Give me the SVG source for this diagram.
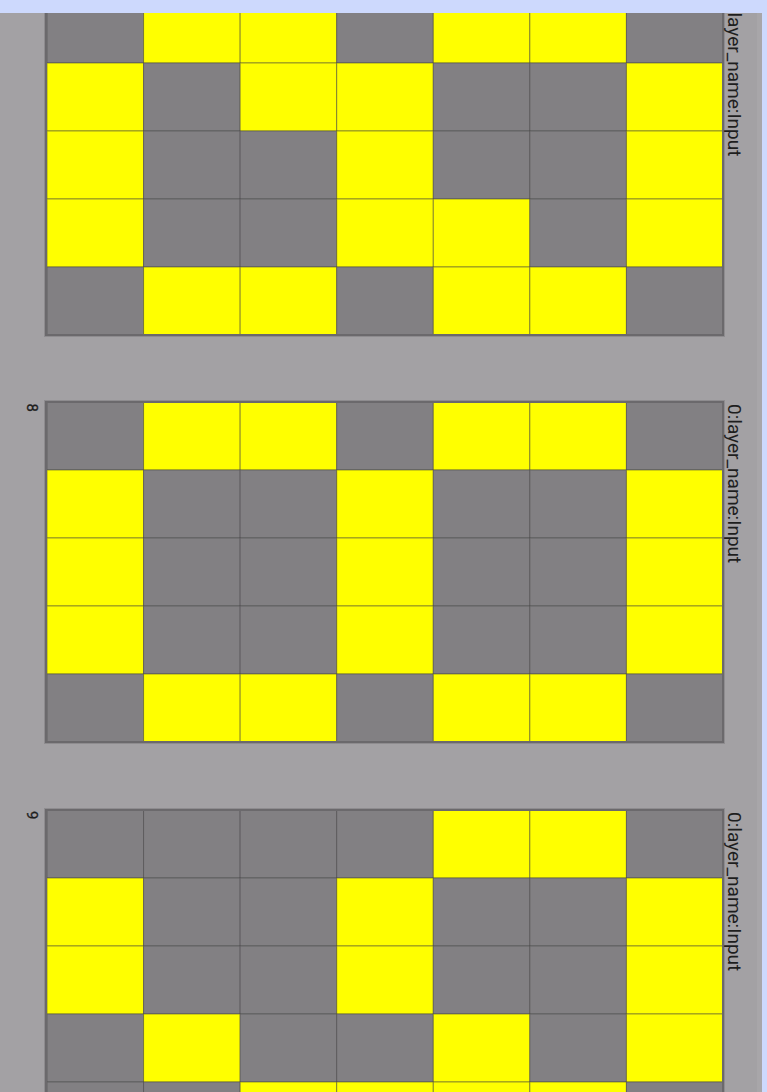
<svg xmlns="http://www.w3.org/2000/svg" width="767" height="1092" viewBox="0 0 767 1092">
<defs>
<style>
.bg{fill:#a3a1a4}
.Y{fill:#ffff00;stroke:#4a4a3a;stroke-opacity:0.55;stroke-width:1}
.G{fill:#828083;stroke:#4a484b;stroke-opacity:0.55;stroke-width:1}
.fo{fill:none;stroke:#8e8c8f;stroke-width:1}
.fi{fill:none;stroke:#6b696c;stroke-width:2}
.lbl{font-family:Roboto,"Liberation Sans",sans-serif;font-size:19px;fill:#1e1e1e}
.num{font-family:Roboto,"Liberation Sans",sans-serif;font-size:15px;fill:#1e1e1e;stroke:#1e1e1e;stroke-width:0.3}
</style>
</defs>
<rect class="bg" x="0" y="0" width="767" height="1092"/>
<rect x="757" y="0" width="5" height="1092" fill="#a8a6a9"/>
<rect x="762" y="0" width="5" height="1092" fill="#cdd9fd"/>

<g id="grid7" transform="translate(0,-5)">
<rect class="G" x="47" y="0" width="96.57" height="68"/><rect class="Y" x="143.57" y="0" width="96.57" height="68"/><rect class="Y" x="240.14" y="0" width="96.57" height="68"/><rect class="G" x="336.71" y="0" width="96.57" height="68"/><rect class="Y" x="433.28" y="0" width="96.57" height="68"/><rect class="Y" x="529.85" y="0" width="96.57" height="68"/><rect class="G" x="626.42" y="0" width="96.57" height="68"/>
<rect class="Y" x="47" y="68" width="96.57" height="68"/><rect class="G" x="143.57" y="68" width="96.57" height="68"/><rect class="Y" x="240.14" y="68" width="96.57" height="68"/><rect class="Y" x="336.71" y="68" width="96.57" height="68"/><rect class="G" x="433.28" y="68" width="96.57" height="68"/><rect class="G" x="529.85" y="68" width="96.57" height="68"/><rect class="Y" x="626.42" y="68" width="96.57" height="68"/>
<rect class="Y" x="47" y="136" width="96.57" height="68"/><rect class="G" x="143.57" y="136" width="96.57" height="68"/><rect class="G" x="240.14" y="136" width="96.57" height="68"/><rect class="Y" x="336.71" y="136" width="96.57" height="68"/><rect class="G" x="433.28" y="136" width="96.57" height="68"/><rect class="G" x="529.85" y="136" width="96.57" height="68"/><rect class="Y" x="626.42" y="136" width="96.57" height="68"/>
<rect class="Y" x="47" y="204" width="96.57" height="68"/><rect class="G" x="143.57" y="204" width="96.57" height="68"/><rect class="G" x="240.14" y="204" width="96.57" height="68"/><rect class="Y" x="336.71" y="204" width="96.57" height="68"/><rect class="Y" x="433.28" y="204" width="96.57" height="68"/><rect class="G" x="529.85" y="204" width="96.57" height="68"/><rect class="Y" x="626.42" y="204" width="96.57" height="68"/>
<rect class="G" x="47" y="272" width="96.57" height="68"/><rect class="Y" x="143.57" y="272" width="96.57" height="68"/><rect class="Y" x="240.14" y="272" width="96.57" height="68"/><rect class="G" x="336.71" y="272" width="96.57" height="68"/><rect class="Y" x="433.28" y="272" width="96.57" height="68"/><rect class="Y" x="529.85" y="272" width="96.57" height="68"/><rect class="G" x="626.42" y="272" width="96.57" height="68"/>
<rect class="fo" x="44.5" y="-1.5" width="680" height="343"/>
<rect class="fi" x="46" y="0" width="677" height="340"/>
<text class="lbl" transform="translate(728,17.5) rotate(90)">layer_name:Input</text>
</g>

<g id="grid8" transform="translate(0,402)">
<rect class="G" x="47" y="0" width="96.57" height="68"/><rect class="Y" x="143.57" y="0" width="96.57" height="68"/><rect class="Y" x="240.14" y="0" width="96.57" height="68"/><rect class="G" x="336.71" y="0" width="96.57" height="68"/><rect class="Y" x="433.28" y="0" width="96.57" height="68"/><rect class="Y" x="529.85" y="0" width="96.57" height="68"/><rect class="G" x="626.42" y="0" width="96.57" height="68"/>
<rect class="Y" x="47" y="68" width="96.57" height="68"/><rect class="G" x="143.57" y="68" width="96.57" height="68"/><rect class="G" x="240.14" y="68" width="96.57" height="68"/><rect class="Y" x="336.71" y="68" width="96.57" height="68"/><rect class="G" x="433.28" y="68" width="96.57" height="68"/><rect class="G" x="529.85" y="68" width="96.57" height="68"/><rect class="Y" x="626.42" y="68" width="96.57" height="68"/>
<rect class="Y" x="47" y="136" width="96.57" height="68"/><rect class="G" x="143.57" y="136" width="96.57" height="68"/><rect class="G" x="240.14" y="136" width="96.57" height="68"/><rect class="Y" x="336.71" y="136" width="96.57" height="68"/><rect class="G" x="433.28" y="136" width="96.57" height="68"/><rect class="G" x="529.85" y="136" width="96.57" height="68"/><rect class="Y" x="626.42" y="136" width="96.57" height="68"/>
<rect class="Y" x="47" y="204" width="96.57" height="68"/><rect class="G" x="143.57" y="204" width="96.57" height="68"/><rect class="G" x="240.14" y="204" width="96.57" height="68"/><rect class="Y" x="336.71" y="204" width="96.57" height="68"/><rect class="G" x="433.28" y="204" width="96.57" height="68"/><rect class="G" x="529.85" y="204" width="96.57" height="68"/><rect class="Y" x="626.42" y="204" width="96.57" height="68"/>
<rect class="G" x="47" y="272" width="96.57" height="68"/><rect class="Y" x="143.57" y="272" width="96.57" height="68"/><rect class="Y" x="240.14" y="272" width="96.57" height="68"/><rect class="G" x="336.71" y="272" width="96.57" height="68"/><rect class="Y" x="433.28" y="272" width="96.57" height="68"/><rect class="Y" x="529.85" y="272" width="96.57" height="68"/><rect class="G" x="626.42" y="272" width="96.57" height="68"/>
<rect class="fo" x="44.5" y="-1.5" width="680" height="343"/>
<rect class="fi" x="46" y="0" width="677" height="340"/>
<text class="lbl" transform="translate(728,2) rotate(90)">0:layer_name:Input</text>
<text class="num" transform="translate(26.5,1.5) rotate(90)">8</text>
</g>

<g id="grid9" transform="translate(0,810)">
<rect class="G" x="47" y="0" width="96.57" height="68"/><rect class="G" x="143.57" y="0" width="96.57" height="68"/><rect class="G" x="240.14" y="0" width="96.57" height="68"/><rect class="G" x="336.71" y="0" width="96.57" height="68"/><rect class="Y" x="433.28" y="0" width="96.57" height="68"/><rect class="Y" x="529.85" y="0" width="96.57" height="68"/><rect class="G" x="626.42" y="0" width="96.57" height="68"/>
<rect class="Y" x="47" y="68" width="96.57" height="68"/><rect class="G" x="143.57" y="68" width="96.57" height="68"/><rect class="G" x="240.14" y="68" width="96.57" height="68"/><rect class="Y" x="336.71" y="68" width="96.57" height="68"/><rect class="G" x="433.28" y="68" width="96.57" height="68"/><rect class="G" x="529.85" y="68" width="96.57" height="68"/><rect class="Y" x="626.42" y="68" width="96.57" height="68"/>
<rect class="Y" x="47" y="136" width="96.57" height="68"/><rect class="G" x="143.57" y="136" width="96.57" height="68"/><rect class="G" x="240.14" y="136" width="96.57" height="68"/><rect class="Y" x="336.71" y="136" width="96.57" height="68"/><rect class="G" x="433.28" y="136" width="96.57" height="68"/><rect class="G" x="529.85" y="136" width="96.57" height="68"/><rect class="Y" x="626.42" y="136" width="96.57" height="68"/>
<rect class="G" x="47" y="204" width="96.57" height="68"/><rect class="Y" x="143.57" y="204" width="96.57" height="68"/><rect class="G" x="240.14" y="204" width="96.57" height="68"/><rect class="G" x="336.71" y="204" width="96.57" height="68"/><rect class="Y" x="433.28" y="204" width="96.57" height="68"/><rect class="G" x="529.85" y="204" width="96.57" height="68"/><rect class="Y" x="626.42" y="204" width="96.57" height="68"/>
<rect class="G" x="47" y="272" width="96.57" height="68"/><rect class="G" x="143.57" y="272" width="96.57" height="68"/><rect class="Y" x="240.14" y="272" width="96.57" height="68"/><rect class="Y" x="336.71" y="272" width="96.57" height="68"/><rect class="Y" x="433.28" y="272" width="96.57" height="68"/><rect class="Y" x="529.85" y="272" width="96.57" height="68"/><rect class="G" x="626.42" y="272" width="96.57" height="68"/>
<rect class="fo" x="44.5" y="-1.5" width="680" height="343"/>
<rect class="fi" x="46" y="0" width="677" height="340"/>
<text class="lbl" transform="translate(728,2) rotate(90)">0:layer_name:Input</text>
<text class="num" transform="translate(26.5,1) rotate(90)">9</text>
</g>

<g id="connectors"></g>

<rect x="0" y="0" width="767" height="13" fill="#cdd9fd"/>
</svg>
